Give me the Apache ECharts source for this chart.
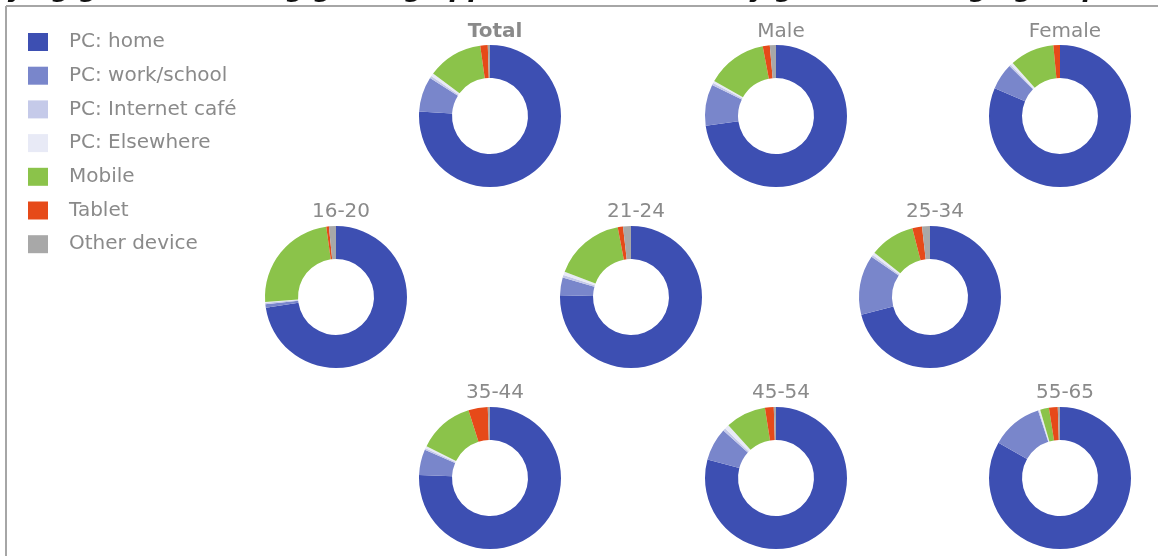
<!DOCTYPE html>
<html>
<head>
<meta charset="utf-8">
<title>Devices used for gaming</title>
<script src="https://cdn.jsdelivr.net/npm/echarts@6/dist/echarts.min.js"></script>
<style>
  html, body { margin: 0; padding: 0; background: #fff; }
  #chart { width: 1158px; height: 556px; }
</style>
</head>
<body>
<div id="chart"></div>
<script>
// Device categories (legend order = slice order, clockwise from 12 o'clock)
const devices = ['PC: home', 'PC: work/school', 'PC: Internet café', 'PC: Elsewhere', 'Mobile', 'Tablet', 'Other device'];
const deviceColors = ['#3d4fb2', '#7986cb', '#c5cae9', '#e8eaf6', '#8bc34a', '#e64a19', '#a8a8a8'];

// Groups shown as donuts
const groups = ['Total', 'Male', 'Female', '16-20', '21-24', '25-34', '35-44', '45-54', '55-65'];

// Share of players (%) per device, same order as `devices`
const total   = [76.0,  8.0, 0.5, 0.7, 12.6, 1.7, 0.5];
const male    = [72.8,  9.4, 0.5, 0.5, 13.8, 1.6, 1.4];
const female  = [81.4,  6.0, 0.4, 0.6, 10.1, 1.5, 0.0];
const age1620 = [72.6,  0.8, 0.3, 0.2, 23.9, 0.6, 1.6];
const age2124 = [75.4,  4.0, 0.6, 0.8, 16.2, 1.2, 1.8];
const age2534 = [71.0, 13.6, 0.5, 0.6, 10.3, 2.2, 1.8];
const age3544 = [75.7,  5.8, 0.4, 0.5, 12.7, 4.4, 0.5];
const age4554 = [79.2,  7.5, 0.6, 1.0,  9.2, 2.0, 0.5];
const age5565 = [83.3, 11.7, 0.2, 0.3,  2.0, 2.0, 0.5];
const groupValues = [total, male, female, age1620, age2124, age2534, age3544, age4554, age5565];

const chartTitle = 'Playing games or using gaming apps: devices used, by gender and age group';

// Layout of the donut grid
const centers = [
  [490, 116], [776, 116], [1060, 116],
  [336, 297], [631, 297], [930, 297],
  [490, 478], [776, 478], [1060, 478]
];
const labelTops = [17, 17, 17, 197, 197, 197, 378, 378, 378];

const chart = echarts.init(document.getElementById('chart'), null, { renderer: 'canvas' });

const titles = [{
  text: chartTitle,
  left: -42,
  top: -29,
  textStyle: { fontFamily: 'DejaVu Sans', fontSize: 26, fontWeight: 'bold', fontStyle: 'italic', color: '#111' }
}].concat(groups.map((g, i) => ({
  text: g,
  left: centers[i][0],
  top: labelTops[i],
  textAlign: 'center',
  textStyle: {
    fontFamily: 'DejaVu Sans',
    fontSize: 20,
    fontWeight: i === 0 ? 'bold' : 'normal',
    color: '#8a8a8a'
  }
})));

const series = groups.map((g, i) => ({
  name: g,
  type: 'pie',
  center: centers[i],
  radius: [38, 71],
  startAngle: 90,
  clockwise: true,
  avoidLabelOverlap: false,
  label: { show: false },
  labelLine: { show: false },
  emphasis: { disabled: true },
  itemStyle: { borderWidth: 0 },
  data: devices.map((d, k) => ({ name: d, value: groupValues[i][k] }))
}));

chart.setOption({
  animation: false,
  color: deviceColors,
  title: titles,
  legend: {
    orient: 'vertical',
    left: 23,
    top: 27,
    itemWidth: 20,
    itemHeight: 18,
    itemGap: 13.7,
    icon: 'rect',
    selectedMode: false,
    data: devices,
    textStyle: { fontFamily: 'DejaVu Sans', fontSize: 20, color: '#8a8a8a', padding: [0, 0, 0, 16] }
  },
  graphic: [
    { type: 'line', shape: { x1: 6, y1: 6, x2: 1158, y2: 6 }, style: { stroke: '#a6a6a6', lineWidth: 2 } },
    { type: 'line', shape: { x1: 6, y1: 6, x2: 6, y2: 556 }, style: { stroke: '#a6a6a6', lineWidth: 2 } }
  ],
  series: series
});
</script>
</body>
</html>
